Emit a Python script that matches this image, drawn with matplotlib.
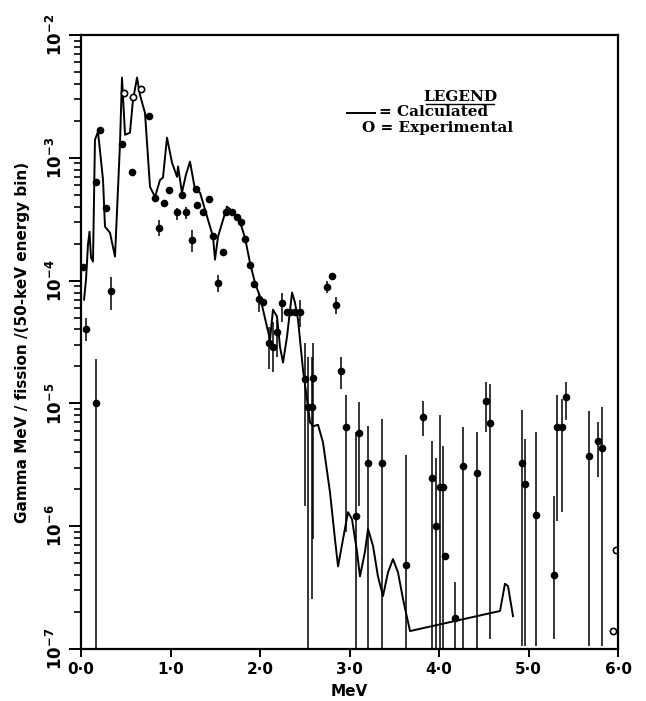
import numpy as np
import matplotlib
matplotlib.use("Agg")
from matplotlib import pyplot as plt
from matplotlib.lines import Line2D

# calculated spectrum (MeV, gamma MeV / fission / 50-keV bin)
calc_e = [0.034, 0.056, 0.078, 0.095, 0.112, 0.134, 0.156, 0.190, 0.223, 0.246,
          0.268, 0.324, 0.380, 0.436, 0.458, 0.492, 0.547, 0.581, 0.626, 0.659,
          0.715, 0.771, 0.827, 0.883, 0.916, 0.961, 1.017, 1.073, 1.084, 1.128,
          1.173, 1.218, 1.274, 1.330, 1.385, 1.475, 1.497, 1.531, 1.631, 1.698,
          1.777, 1.832, 1.888, 1.944, 2.000, 2.078, 2.112, 2.145, 2.190, 2.223,
          2.257, 2.302, 2.358, 2.391, 2.425, 2.480, 2.525, 2.559, 2.592, 2.648,
          2.704, 2.782, 2.838, 2.872, 2.927, 2.983, 3.028, 3.084, 3.117, 3.173,
          3.207, 3.263, 3.318, 3.374, 3.430, 3.486, 3.542, 3.598, 3.676, 4.682,
          4.737, 4.771, 4.827]
calc_val = [7.0e-5, 1.02e-4, 1.96e-4, 2.5e-4, 1.54e-4, 1.43e-4, 1.40e-3, 1.63e-3, 9.6e-4, 6.6e-4,
            2.75e-4, 2.45e-4, 1.57e-4, 1.32e-3, 4.5e-3, 1.54e-3, 1.60e-3, 2.96e-3, 4.5e-3, 3.25e-3,
            2.32e-3, 5.8e-4, 4.8e-4, 6.6e-4, 6.9e-4, 1.46e-3, 9.1e-4, 7.0e-4, 8.5e-4, 5.2e-4,
            7.3e-4, 9.3e-4, 5.5e-4, 5.2e-4, 3.8e-4, 2.28e-4, 1.48e-4, 2.28e-4, 4.0e-4, 3.64e-4,
            3.0e-4, 2.24e-4, 1.40e-4, 9.6e-5, 7.4e-5, 4.2e-5, 3.3e-5, 5.8e-5, 5.1e-5, 2.9e-5,
            2.15e-5, 3.5e-5, 8.0e-5, 6.6e-5, 4.8e-5, 1.89e-5, 1.08e-5, 7.0e-6, 6.5e-6, 6.7e-6,
            4.8e-6, 1.89e-6, 7.8e-7, 4.7e-7, 7.8e-7, 1.30e-6, 1.14e-6, 6.2e-7, 3.9e-7, 6.2e-7,
            9.5e-7, 6.9e-7, 3.9e-7, 2.7e-7, 4.2e-7, 5.4e-7, 4.2e-7, 2.55e-7, 1.40e-7, 2.04e-7,
            3.4e-7, 3.25e-7, 1.85e-7]

# experimental points: energy, value, error bar low / high (nan = no bar)
exp_e = [0.020, 0.060, 0.168, 0.168, 0.212, 0.279, 0.335, 0.458, 0.570, 0.760,
         0.827, 0.872, 0.927, 0.983, 1.073, 1.128, 1.173, 1.240, 1.285, 1.296,
         1.363, 1.430, 1.475, 1.531, 1.587, 1.620, 1.687, 1.743, 1.788, 1.832,
         1.888, 1.933, 1.989, 2.034, 2.101, 2.145, 2.190, 2.246, 2.302, 2.335,
         2.391, 2.447, 2.503, 2.592, 2.536, 2.581, 2.749, 2.804, 2.849, 2.905,
         2.961, 3.073, 3.106, 3.207, 3.363, 3.631, 3.821, 3.922, 3.966, 4.011,
         4.045, 4.067, 4.179, 4.268, 4.425, 4.525, 4.570, 4.927, 4.961, 5.084,
         5.285, 5.318, 5.374, 5.419, 5.676, 5.777, 5.821]
exp_val = [1.3e-4, 4.0e-5, 1.0e-5, 6.4e-4, 1.7e-3, 3.9e-4, 8.3e-5, 1.3e-3, 7.7e-4, 2.2e-3,
           4.7e-4, 2.7e-4, 4.3e-4, 5.5e-4, 3.6e-4, 5.0e-4, 3.6e-4, 2.15e-4, 5.6e-4, 4.1e-4,
           3.6e-4, 4.6e-4, 2.3e-4, 9.6e-5, 1.7e-4, 3.6e-4, 3.6e-4, 3.3e-4, 3.0e-4, 2.2e-4,
           1.35e-4, 9.3e-5, 7.1e-5, 6.7e-5, 3.1e-5, 2.9e-5, 3.8e-5, 6.6e-5, 5.5e-5, 5.5e-5,
           5.5e-5, 5.6e-5, 1.57e-5, 1.6e-5, 9.3e-6, 9.3e-6, 8.9e-5, 1.08e-4, 6.3e-5, 1.85e-5,
           6.4e-6, 1.2e-6, 5.7e-6, 3.3e-6, 3.3e-6, 4.8e-7, 7.8e-6, 2.45e-6, 1.0e-6, 2.07e-6,
           2.07e-6, 5.7e-7, 1.8e-7, 3.1e-6, 2.7e-6, 1.04e-5, 6.9e-6, 3.3e-6, 2.2e-6, 1.23e-6,
           4.0e-7, 6.4e-6, 6.4e-6, 1.12e-5, 3.7e-6, 4.9e-6, 4.3e-6]
nan = np.nan
exp_lo = [nan, 3.2e-5, 1e-7, nan, nan, nan, 5.8e-5, nan, nan, nan,
          nan, 2.3e-4, nan, nan, 3.1e-4, nan, 3.2e-4, 1.72e-4, nan, nan,
          nan, nan, nan, 8.1e-5, nan, nan, nan, nan, nan, nan,
          nan, nan, 5.5e-5, nan, 1.9e-5, 1.8e-5, 2.4e-5, 4.6e-5, nan, nan,
          nan, 4.2e-5, 1.46e-6, 7.8e-7, 1e-7, 2.55e-7, 7.9e-5, nan, 5.3e-5, 1.3e-5,
          8.9e-7, 1e-7, 1.46e-6, 1e-7, 1e-7, 1e-7, 5.4e-6, 1e-7, 1e-7, 1e-7,
          1e-7, nan, 1e-7, 1e-7, 1e-7, 5.9e-6, 1.2e-7, 1.06e-7, 1.06e-7, 1.06e-7,
          1.2e-7, 1.1e-6, 1.3e-6, 7.3e-6, 1.06e-7, 2.5e-6, 1.06e-7]
exp_hi = [nan, 5.0e-5, 2.3e-5, nan, nan, nan, 1.06e-4, nan, nan, nan,
          nan, 3.1e-4, nan, nan, 3.9e-4, nan, 4.0e-4, 2.6e-4, nan, nan,
          nan, nan, nan, 1.12e-4, nan, nan, nan, nan, nan, nan,
          nan, nan, 8.0e-5, nan, 4.2e-5, 4.6e-5, 4.8e-5, 8.0e-5, nan, nan,
          nan, 7.0e-5, 3.1e-5, 3.1e-5, 2.4e-5, 2.4e-5, 1.0e-4, nan, 7.3e-5, 2.4e-5,
          1.18e-5, 5.8e-6, 1.02e-5, 6.5e-6, 7.4e-6, 3.8e-6, 1.04e-5, 4.9e-6, 3.6e-6, 8.1e-6,
          4.5e-6, nan, 3.5e-7, 6.4e-6, 5.9e-6, 1.48e-5, 1.43e-5, 8.9e-6, 5.1e-6, 5.9e-6,
          1.75e-6, 1.18e-5, 1.08e-5, 1.5e-5, 8.6e-6, 7.1e-6, 9.4e-6]

# open-circle points
open_e = [0.480, 0.581, 0.670, 5.944, 5.978]
open_val = [3.4e-3, 3.1e-3, 3.6e-3, 1.4e-7, 6.4e-7]

xticks = [0, 1, 2, 3, 4, 5, 6]
xticklabels = ['0·0', '1·0', '2·0', '3·0', '4·0', '5·0', '6·0']
yticks = [1e-7, 1e-6, 1e-5, 1e-4, 1e-3, 1e-2]
yticklabels = [r'$10^{-7}$', r'$10^{-6}$', r'$10^{-5}$', r'$10^{-4}$', r'$10^{-3}$', r'$10^{-2}$']

plt.rcParams['mathtext.default'] = 'bf'
plt.rcParams['font.family'] = ['DejaVu Sans']

W, H = 646, 701
fig = plt.figure(figsize=(W / 100, H / 100), dpi=100)
ax = fig.add_axes([81 / W, 1 - 649 / H, (618 - 81) / W, (649 - 35) / H])
ax.set_yscale('log')
ax.set_xlim(0, 6)
ax.set_ylim(1e-7, 1e-2)

ax.plot(calc_e, calc_val, color='k', lw=1.4)
ax.vlines(exp_e, exp_lo, exp_hi, color='k', lw=1.1)
ax.plot(exp_e, exp_val, 'o', color='k', ms=5.5, mew=0)
ax.plot(open_e, open_val, 'o', ms=4.5, mfc='white', mec='k', mew=1.2)

for s in ax.spines.values():
    s.set_linewidth(1.6)

ax.set_xticks(xticks)
ax.set_xticklabels(xticklabels, fontsize=11, fontweight='bold')
ax.set_yticks(yticks)
ax.set_yticklabels(yticklabels, fontsize=12, rotation=90, va='center')
ax.tick_params(axis='x', direction='out', length=6, width=1.4, pad=3)
ax.tick_params(axis='y', which='major', direction='out', length=9, width=1.4, pad=2)
ax.tick_params(axis='y', which='minor', direction='out', length=5, width=1.2)
ax.xaxis.set_minor_locator(matplotlib.ticker.NullLocator())

ax.set_xlabel('MeV', fontsize=11, fontweight='bold')
ax.xaxis.set_label_coords(0.5, -0.057)
ax.set_ylabel('Gamma MeV / fission /(50-keV energy bin)', fontsize=11, fontweight='bold')
ax.yaxis.set_label_coords(-0.095, 0.5)

# legend block drawn as text, like the original
serif = dict(family='DejaVu Serif', weight='bold', fontsize=11)
fig.text(460 / W, 1 - 97 / H, 'LEGEND', ha='center', va='center', **serif)
fig.add_artist(Line2D([426 / W, 494 / W], [1 - 104 / H] * 2, color='k', lw=1.0))
fig.add_artist(Line2D([347 / W, 375 / W], [1 - 113 / H] * 2, color='k', lw=1.4))
fig.text(379 / W, 1 - 112 / H, '= Calculated', ha='left', va='center', **serif)
fig.text(362 / W, 1 - 128 / H, 'O = Experimental', ha='left', va='center', **serif)

fig.savefig('out.png', dpi=100)
